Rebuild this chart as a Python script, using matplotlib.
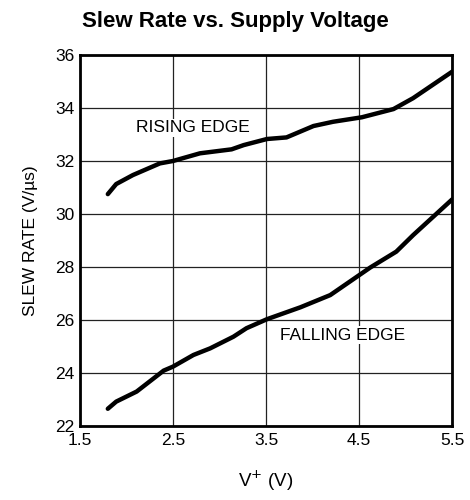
import matplotlib
matplotlib.use("Agg")
import matplotlib.pyplot as plt

plt.rcParams['font.family'] = ['Liberation Sans', 'DejaVu Sans']

rising_v = [1.80, 1.89, 2.07, 2.36, 2.50, 2.79, 3.13, 3.26, 3.51, 3.72, 4.01, 4.22, 4.53, 4.87, 5.08, 5.50]
rising_sr = [30.75, 31.13, 31.47, 31.91, 32.00, 32.29, 32.44, 32.60, 32.83, 32.89, 33.32, 33.48, 33.65, 33.96, 34.37, 35.37]

falling_v = [1.80, 1.89, 2.11, 2.40, 2.50, 2.72, 2.90, 3.15, 3.29, 3.51, 3.87, 4.19, 4.62, 4.90, 5.08, 5.50]
falling_sr = [22.65, 22.92, 23.30, 24.09, 24.24, 24.68, 24.93, 25.37, 25.69, 26.03, 26.48, 26.94, 27.98, 28.58, 29.20, 30.55]

x_ticks = [1.5, 2.5, 3.5, 4.5, 5.5]
y_ticks = [22, 24, 26, 28, 30, 32, 34, 36]

fig = plt.figure(figsize=(4.7, 5.0), dpi=100)
ax = fig.add_axes([0.170, 0.148, 0.792, 0.742])

ax.plot(rising_v, rising_sr, color='black', lw=3.2, solid_capstyle='round', solid_joinstyle='round')
ax.plot(falling_v, falling_sr, color='black', lw=3.2, solid_capstyle='round', solid_joinstyle='round')

ax.set_xlim(1.5, 5.5)
ax.set_ylim(22, 36)
ax.set_xticks(x_ticks)
ax.set_xticklabels([f"{t:.1f}" for t in x_ticks])
ax.set_yticks(y_ticks)
ax.grid(True, color='#222222', lw=0.9)
ax.tick_params(length=0, labelsize=12.5)
ax.tick_params(axis='x', pad=5)
ax.tick_params(axis='y', pad=4)
for s in ax.spines.values():
    s.set_linewidth(2)

ax.text(2.71, 33.25, 'RISING EDGE', fontsize=12.5, ha='center', va='center',
        bbox=dict(facecolor='white', edgecolor='none', pad=1))
ax.text(4.32, 25.43, 'FALLING EDGE', fontsize=12.5, ha='center', va='center',
        bbox=dict(facecolor='white', edgecolor='none', pad=1))

ax.set_xlabel('V$^{+}$ (V)', fontsize=13.5, labelpad=15)
ax.set_ylabel('SLEW RATE (V/µs)', fontsize=12.5, labelpad=12)
fig.text(0.5, 0.958, 'Slew Rate vs. Supply Voltage', fontsize=16,
         fontweight='bold', ha='center', va='center')

fig.savefig('out.png', dpi=100)
